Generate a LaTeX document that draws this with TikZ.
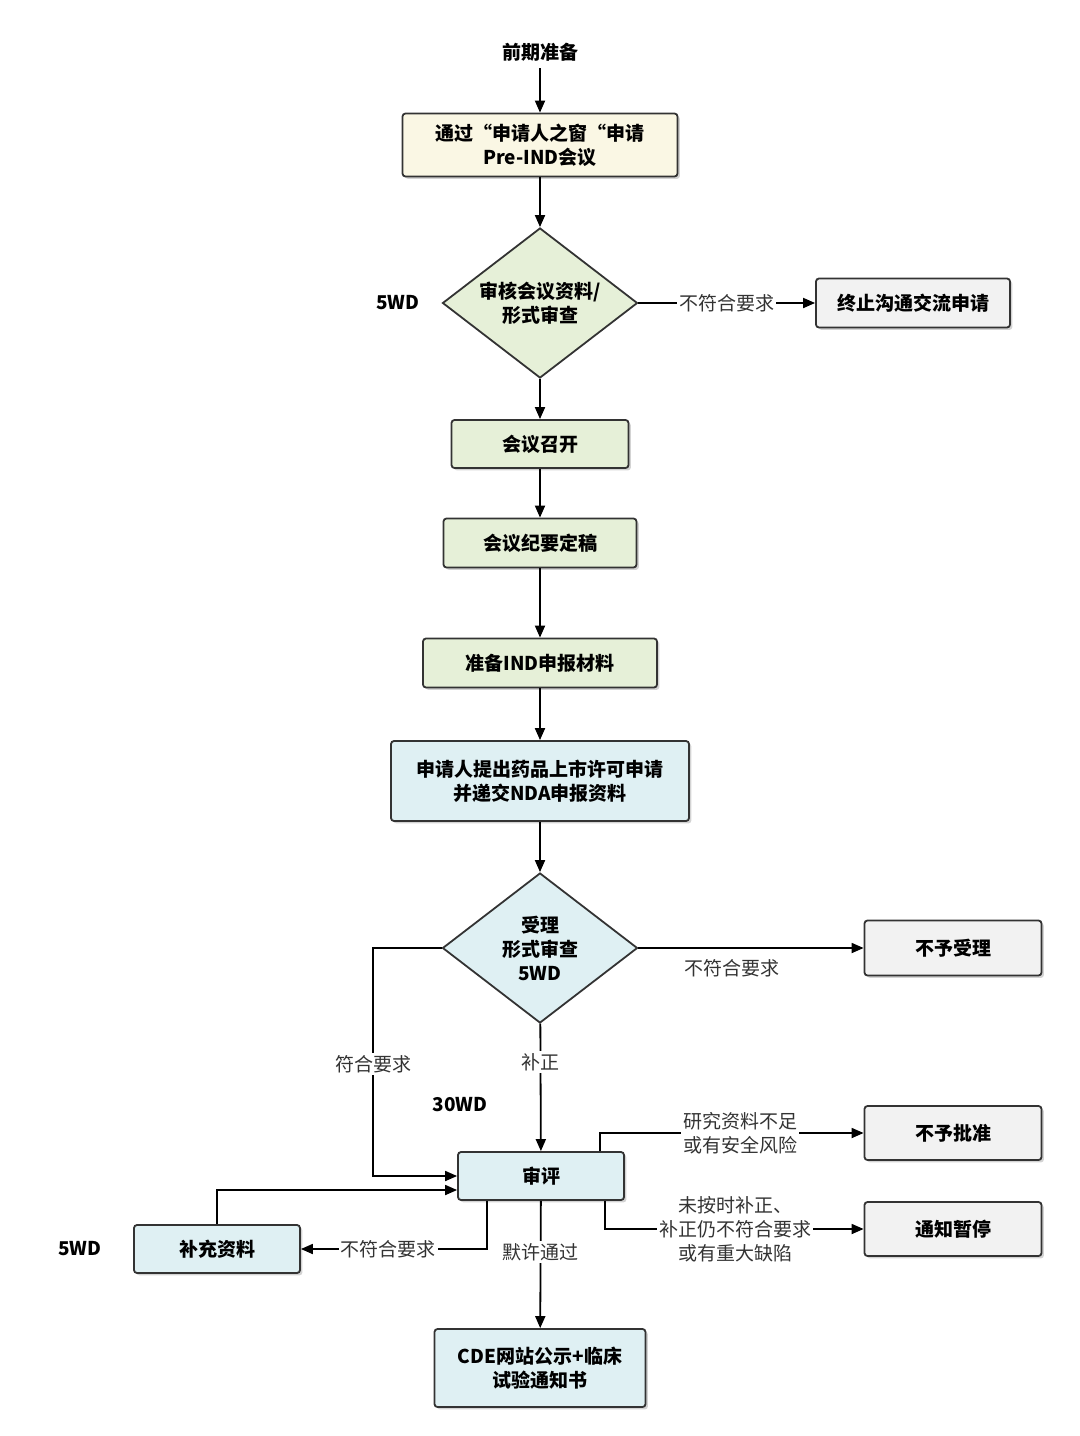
\documentclass[tikz,border=0pt]{standalone}
\usepackage{fontspec}
\setmainfont{Noto Sans CJK SC}
\usetikzlibrary{shapes.geometric,arrows.meta,shadows}
\definecolor{cream}{HTML}{FAF7E4}
\definecolor{lgreen}{HTML}{E6F0D8}
\definecolor{lblue}{HTML}{DFF0F3}
\definecolor{lgray}{HTML}{F2F2F2}
\definecolor{edge}{HTML}{333333}
\begin{document}
\begin{tikzpicture}[x=0.5pt,y=-0.5pt,
  box/.style={draw=edge,line width=0.9pt,rounded corners=1.5pt,align=center,font=\bfseries\fontsize{9.5}{12}\selectfont,inner sep=0pt,drop shadow={shadow xshift=1.2pt,shadow yshift=-1.2pt,opacity=0.35}},
  dia/.style={draw=edge,line width=0.9pt,diamond,aspect=1.3,align=center,font=\bfseries\fontsize{9.5}{12}\selectfont,inner sep=0pt},
  lab/.style={font=\fontsize{9.5}{12}\selectfont,align=center,text=black!80},
  blab/.style={font=\bfseries\fontsize{9.5}{12}\selectfont},
  arr/.style={draw=black,line width=0.9pt,-{Triangle[length=6pt,width=5pt]}}]
\useasboundingbox (0,0) rectangle (1080,1436);
\node[blab] (start) at (540,52) {前期准备};
\node[box,fill=cream,minimum width=137.5pt,minimum height=31.5pt] (b1) at (540,145) {通过“申请人之窗“申请\\Pre-IND会议};
\node[dia,fill=lgreen,minimum width=97.5pt,minimum height=75pt] (d1) at (540,303) {审核会议资料/\\形式审查};
\node[blab] (w1) at (398,303) {5WD};
\node[box,fill=lgray,minimum width=97pt,minimum height=24.5pt] (stop) at (913,303) {终止沟通交流申请};
\node[box,fill=lgreen,minimum width=88.5pt,minimum height=24pt] (b2) at (540,444) {会议召开};
\node[box,fill=lgreen,minimum width=96.5pt,minimum height=24.5pt] (b3) at (540,543) {会议纪要定稿};
\node[box,fill=lgreen,minimum width=117pt,minimum height=24.5pt] (b4) at (540,663) {准备IND申报材料};
\node[box,fill=lblue,minimum width=149pt,minimum height=40pt] (b5) at (540,781) {申请人提出药品上市许可申请\\并递交NDA申报资料};
\node[dia,fill=lblue,minimum width=97.5pt,minimum height=75pt] (d2) at (540,948) {受理\\形式审查\\5WD};
\node[box,fill=lgray,minimum width=88.5pt,minimum height=27.5pt] (rej) at (953,948) {不予受理};
\node[box,fill=lblue,minimum width=83pt,minimum height=24pt] (rev) at (541,1176) {审评};
\node[box,fill=lgray,minimum width=88.5pt,minimum height=27pt] (nap) at (953,1133) {不予批准};
\node[box,fill=lgray,minimum width=88.5pt,minimum height=27pt] (pause) at (953,1229) {通知暂停};
\node[box,fill=lblue,minimum width=83pt,minimum height=24pt] (sup) at (217,1249) {补充资料};
\node[blab] (w2) at (80,1249) {5WD};
\node[blab] (w3) at (460,1105) {30WD};
\node[box,fill=lblue,minimum width=105.5pt,minimum height=39pt] (cde) at (540,1368) {CDE网站公示+临床\\试验通知书};
\coordinate (c1) at (373,948); \coordinate (c2) at (373,1176);
\coordinate (c3) at (600,1133); \coordinate (c4) at (605,1229);
\coordinate (c5) at (487,1249); \coordinate (c6) at (217,1190);
\draw[arr] (start) -- (b1);
\draw[arr] (b1) -- (d1);
\draw[arr] (d1) -- node[lab,fill=white,inner sep=1pt]{不符合要求} (stop);
\draw[arr] (d1) -- (b2);
\draw[arr] (b2) -- (b3);
\draw[arr] (b3) -- (b4);
\draw[arr] (b4) -- (b5);
\draw[arr] (b5) -- (d2);
\draw[arr] (d2) -- (rej);
\node[lab] at (732,968) {不符合要求};
\draw[arr] (d2.west) -- (c1) -- (c2) -- (rev.west);
\node[lab,fill=white,inner sep=1pt] at (373,1064) {符合要求};
\draw[arr] (d2) -- node[lab,fill=white,inner sep=1pt,pos=0.3]{补正} (rev);
\draw[arr] (rev.north -| c3) -- (c3) -- (nap);
\node[lab,fill=white,inner sep=1pt] at (740,1133) {研究资料不足\\或有安全风险};
\draw[arr] (rev.south -| c4) -- (c4) -- (pause);
\node[lab,fill=white,inner sep=1pt] at (735,1229) {未按时补正、\\补正仍不符合要求\\或有重大缺陷};
\draw[arr] (rev.south -| c5) -- (c5) -- (sup);
\node[lab,fill=white,inner sep=1pt] at (388,1249) {不符合要求};
\draw[arr] (sup.north) -- (c6) -- (c6 -| rev.west);
\draw[arr] (rev) -- node[lab,fill=white,inner sep=1pt,pos=0.4]{默许通过} (cde);
\end{tikzpicture}
\end{document}
